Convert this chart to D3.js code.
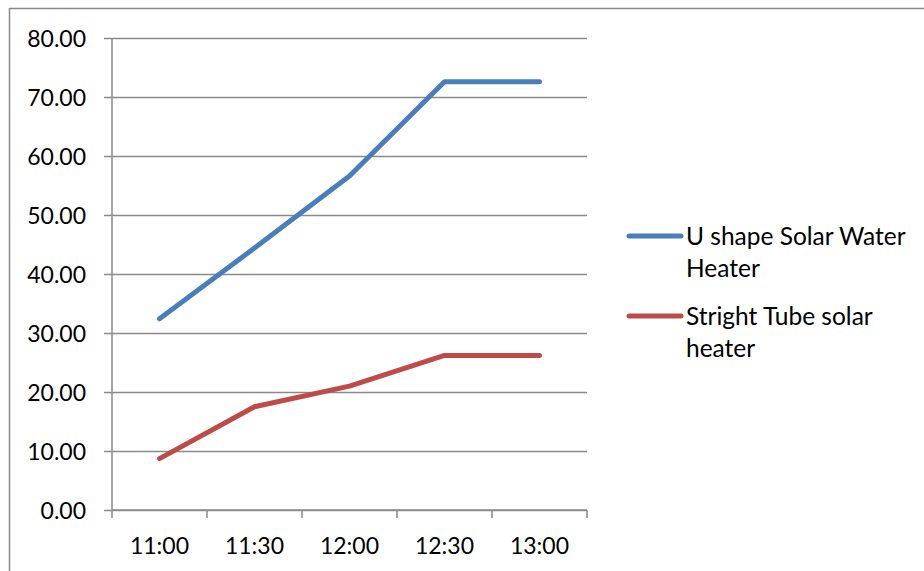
<!DOCTYPE html>
<html>
<head>
<meta charset="utf-8">
<script src="https://cdn.jsdelivr.net/npm/d3@7"></script>
<style>
  html, body { margin: 0; padding: 0; background: #fff; }
  svg { display: block; font-family: Lato, "Open Sans", sans-serif; }
</style>
</head>
<body>
<svg id="chart" width="924" height="571"></svg>
<script>
// Time of reading
const categories = ["11:00", "11:30", "12:00", "12:30", "13:00"];
// Water temperature for each heater design
const seriesNames = ["U shape Solar Water Heater", "Stright Tube solar heater"];
const uShapeValues = [32.4, 44.4, 56.6, 72.6, 72.6];
const straightTubeValues = [8.7, 17.5, 21.0, 26.2, 26.2];
const seriesColors = ["#4a7ebb", "#be4b48"];
const yTicks = [0, 10, 20, 30, 40, 50, 60, 70, 80];

const series = [
  { name: seriesNames[0], values: uShapeValues, color: seriesColors[0] },
  { name: seriesNames[1], values: straightTubeValues, color: seriesColors[1] }
];

const svg = d3.select("#chart");
const gridColor = "#8a8a8a";

// Outer frame of the chart area
svg.append("rect")
  .attr("x", 9.5).attr("y", 8.5)
  .attr("width", 1000).attr("height", 1000)
  .attr("fill", "none")
  .attr("stroke", gridColor)
  .attr("stroke-width", 1.5);

const plot = { left: 112, right: 587, top: 38, bottom: 510 };

const x = d3.scaleBand()
  .domain(categories)
  .range([plot.left, plot.right])
  .paddingInner(0).paddingOuter(0);

const y = d3.scaleLinear()
  .domain([0, 80])
  .range([plot.bottom, plot.top]);

// Horizontal gridlines with left tick marks and labels
const yAxis = d3.axisLeft(y)
  .tickValues(yTicks)
  .tickFormat(d3.format(".2f"))
  .tickSize(-(plot.right - plot.left))
  .tickPadding(0);

const gy = svg.append("g")
  .attr("transform", `translate(${plot.left},0)`)
  .call(yAxis);
gy.select(".domain").remove();
gy.selectAll(".tick line")
  .attr("x1", -8)
  .attr("stroke", gridColor)
  .attr("stroke-width", 1.5);
gy.selectAll(".tick text")
  .attr("x", -26)
  .attr("dy", "0.36em")
  .attr("fill", "#000")
  .style("font-size", "23px")
  .style("font-family", "Lato, sans-serif");

// Vertical axis line
svg.append("line")
  .attr("x1", plot.left).attr("x2", plot.left)
  .attr("y1", plot.top).attr("y2", plot.bottom)
  .attr("stroke", gridColor).attr("stroke-width", 1.5);

// Category axis with ticks at band boundaries
const gx = svg.append("g")
  .attr("transform", `translate(0,${plot.bottom})`);
gx.append("line")
  .attr("x1", plot.left).attr("x2", plot.right)
  .attr("stroke", gridColor).attr("stroke-width", 1.5);
const boundaries = categories.map(c => x(c)).concat([x(categories[categories.length - 1]) + x.bandwidth()]);
gx.selectAll("line.tick")
  .data(boundaries)
  .join("line")
  .attr("class", "tick")
  .attr("x1", d => d).attr("x2", d => d)
  .attr("y1", 0).attr("y2", 8)
  .attr("stroke", gridColor).attr("stroke-width", 1.5);
gx.selectAll("text")
  .data(categories)
  .join("text")
  .attr("x", d => x(d) + x.bandwidth() / 2)
  .attr("y", 44)
  .attr("text-anchor", "middle")
  .attr("fill", "#000")
  .style("font-size", "23px")
  .text(d => d);

// Series lines
const line = d3.line()
  .x((d, i) => x(categories[i]) + x.bandwidth() / 2)
  .y(d => y(d));

svg.append("g")
  .selectAll("path")
  .data(series)
  .join("path")
  .attr("d", d => line(d.values))
  .attr("fill", "none")
  .attr("stroke", d => d.color)
  .attr("stroke-width", 5)
  .attr("stroke-linecap", "round")
  .attr("stroke-linejoin", "round");

// Legend
const legend = svg.append("g");
const legendTop = [236, 316];
const maxTextWidth = 232;
series.forEach((s, i) => {
  const g = legend.append("g").attr("transform", `translate(0,${legendTop[i]})`);
  g.append("line")
    .attr("x1", 629).attr("x2", 681)
    .attr("stroke", s.color)
    .attr("stroke-width", 5)
    .attr("stroke-linecap", "round");
  const text = g.append("text")
    .attr("x", 686)
    .attr("y", 9)
    .attr("fill", "#000")
    .style("font-size", "24.5px");
  // word wrap within the legend column
  const words = s.name.split(" ");
  let lineWords = [];
  let tspan = text.append("tspan").attr("x", 686).attr("dy", 0);
  words.forEach(w => {
    lineWords.push(w);
    tspan.text(lineWords.join(" "));
    if (tspan.node().getComputedTextLength() > maxTextWidth && lineWords.length > 1) {
      lineWords.pop();
      tspan.text(lineWords.join(" "));
      lineWords = [w];
      tspan = text.append("tspan").attr("x", 686).attr("dy", 32).text(w);
    }
  });
});
</script>
</body>
</html>
